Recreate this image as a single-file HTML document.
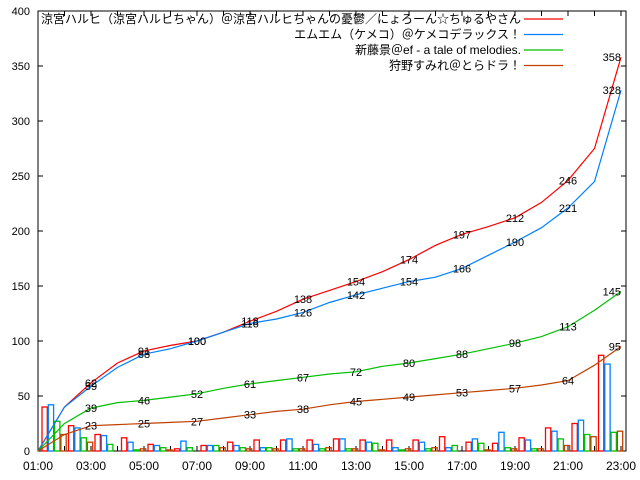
<!DOCTYPE html>
<html><head><meta charset="utf-8"><style>
body{margin:0;background:#fff}
svg{display:block;font-family:"Liberation Sans","WenQuanYi Zen Hei","Noto Sans CJK JP",sans-serif}
</style></head><body>
<svg id="c" width="640" height="480" xmlns="http://www.w3.org/2000/svg"></svg>
<script>
const hours=[1,2,3,4,5,6,7,8,9,10,11,12,13,14,15,16,17,18,19,20,21,22,23];
const seriesNames=["涼宮ハルヒ（涼宮ハルヒちゃん）＠涼宮ハルヒちゃんの憂鬱／にょろーん☆ちゅるやさん","エムエム（ケメコ）＠ケメコデラックス！","新藤景＠ef - a tale of melodies.","狩野すみれ＠とらドラ！"];
const colors=["#ff0000","#0080ff","#00c000","#c04000"];
const redCum=[0,40,62,80,91,96,100,108,118,127,138,146,154,163,174,187,197,204,212,226,246,275,358];
const blueCum=[0,40,59,76,88,93,100,108,116,120,126,135,142,148,154,158,166,178,190,203,221,245,328];
const greenCum=[0,25,39,44,46,49,52,57,61,64,67,70,72,77,80,84,88,93,98,104,113,128,145];
const brownCum=[0,15,23,24,25,26,27,30,33,36,38,42,45,47,49,51,53,55,57,60,64,78,95];
const redBars=[40,23,15,12,6,2,5,8,10,10,10,11,10,10,10,13,8,7,12,21,25,87];
const blueBars=[42,21,14,8,5,9,5,5,3,11,6,11,8,3,8,3,11,17,10,18,28,79];
const greenBars=[27,12,6,1,3,3,5,3,3,2,2,2,7,1,2,5,7,3,2,11,15,17];
const brownBars=[15,8,0,2,1,0,3,2,2,2,3,2,1,2,3,0,1,2,2,5,13,18];
const yTicks=[0,50,100,150,200,250,300,350,400];
const xLabels=["01:00","03:00","05:00","07:00","09:00","11:00","13:00","15:00","17:00","19:00","21:00","23:00"];
const labelHours=[3,5,7,9,11,13,15,17,19,21];

const svg=document.getElementById('c');
const NS="http://www.w3.org/2000/svg";
const L=38,R=626,T=11,B=451;
function X(t){return L+(t-1)*26.5;}
function Y(v){return B-v*1.1;}
function mk(tag,attrs,parent){const e=document.createElementNS(NS,tag);for(const k in attrs)e.setAttribute(k,attrs[k]);(parent||svg).appendChild(e);return e;}

// frame
const frame=mk('rect',{x:L,y:T,width:R-L,height:B-T,fill:'none',stroke:'#000','stroke-width':1});



// y ticks
yTicks.forEach(v=>{
  const t1=mk('line',{x1:L,x2:L+5,y1:Y(v),y2:Y(v),stroke:'#000'});
  
  
  const t2=mk('line',{x1:R-5,x2:R,y1:Y(v),y2:Y(v),stroke:'#000'});
  
  
  const tx=mk('text',{x:30,y:Y(v)+4,'text-anchor':'end','font-size':11});
  tx.textContent=v;
  
  
});
// x ticks
hours.forEach(h=>{
  const t1=mk('line',{x1:X(h),x2:X(h),y1:B,y2:B-5,stroke:'#000'});
  
  
  const t2=mk('line',{x1:X(h),x2:X(h),y1:T,y2:T+5,stroke:'#000'});
  
  
});
xLabels.forEach(s=>{
  const h=parseInt(s,10);
  const tx=mk('text',{x:X(h),y:470,'text-anchor':'middle','font-size':12});
  tx.textContent=s;
  
  
});

// bars
const barSets=[redBars,blueBars,greenBars,brownBars];
barSets.forEach((arr,si)=>{
  arr.forEach((v,i)=>{
    const x=X(hours[i])+4+si*6.3;
    const b=mk('rect',{x:x,y:Y(v),width:5.3,height:B-Y(v),fill:'none',stroke:colors[si],'stroke-width':1.3});
    
    
  });
});

// lines
const cums=[redCum,blueCum,greenCum,brownCum];
cums.forEach((arr,si)=>{
  let d='';
  arr.forEach((v,i)=>{d+=(i?'L':'M')+X(hours[i]).toFixed(1)+','+Y(v).toFixed(1);});
  const p=mk('path',{d:d,fill:'none',stroke:colors[si],'stroke-width':1.2});
  
  
});
// value labels
[3,2,1,0].forEach(si=>{
  const arr=cums[si];
  labelHours.forEach(h=>{
    const v=arr[h-1];
    const tx=mk('text',{x:X(h),y:Y(v)+4,'text-anchor':'middle','font-size':11});
    tx.textContent=v;
    
    
  });
  const v=arr[arr.length-1];
  const tx=mk('text',{x:621,y:Y(v)+4,'text-anchor':'end','font-size':11});
  tx.textContent=v;
  
  
});

// legend
seriesNames.forEach((n,i)=>{
  const y=23+i*15.5;
  const tx=mk('text',{x:521,y:y,'text-anchor':'end','font-size':12});
  tx.textContent=n;
  
  
  const ln=mk('line',{x1:524,x2:563,y1:y-4,y2:y-4,stroke:colors[i],'stroke-width':1.2});
  
  
});
</script>
</body></html>
